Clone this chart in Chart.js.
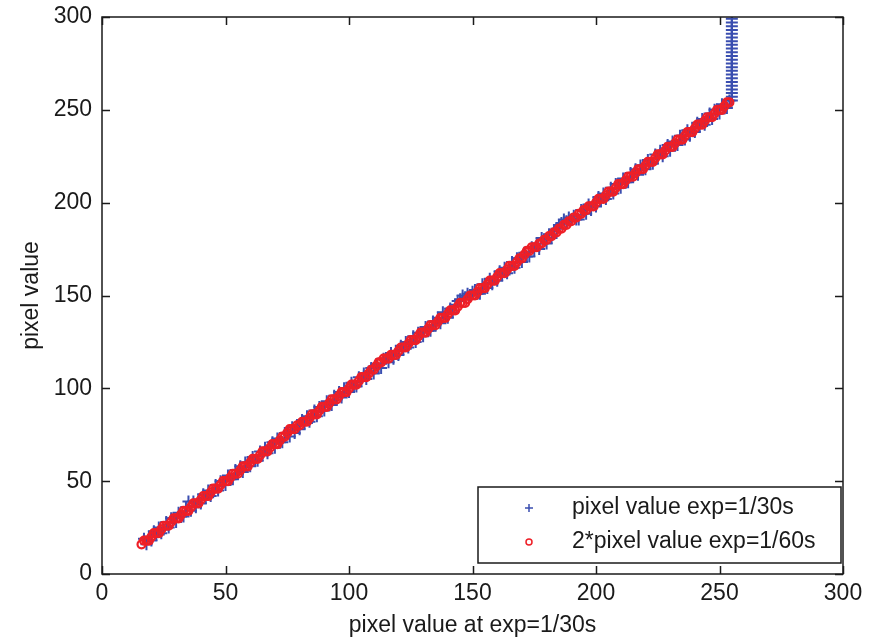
<!DOCTYPE html>
<html>
<head>
<meta charset="utf-8">
<script src="https://cdn.jsdelivr.net/npm/chart.js@4.4.1/dist/chart.umd.min.js"></script>
<style>
  html, body { margin: 0; padding: 0; background: #fff; }
  #wrap { width: 881px; height: 640px; }
</style>
</head>
<body>
<div id="wrap"><canvas id="plot" width="881" height="640"></canvas></div>
<script>
// pixel value at 1/30s exposure (blue +)
const blueX = [
  17, 18, 19, 20, 21, 22, 23, 24, 25, 26, 27, 28, 29, 30, 31, 32, 33, 34, 35, 36,
  37, 38, 39, 40, 41, 42, 43, 44, 45, 46, 47, 48, 49, 50, 51, 52, 53, 54, 55, 56,
  57, 58, 59, 60, 61, 62, 63, 64, 65, 66, 67, 68, 69, 70, 71, 72, 73, 74, 75, 76,
  77, 78, 79, 80, 81, 82, 83, 84, 85, 86, 87, 88, 89, 90, 91, 92, 93, 94, 95, 96,
  97, 98, 99, 100, 101, 102, 103, 104, 105, 106, 107, 108, 109, 110, 111, 112, 113, 114, 115, 116,
  117, 118, 119, 120, 121, 122, 123, 124, 125, 126, 127, 128, 129, 130, 131, 132, 133, 134, 135, 136,
  137, 138, 139, 140, 141, 142, 143, 144, 145, 146, 147, 148, 149, 150, 151, 152, 153, 154, 155, 156,
  157, 158, 159, 160, 161, 162, 163, 164, 165, 166, 167, 168, 169, 170, 171, 172, 173, 174, 175, 176,
  177, 178, 179, 180, 181, 182, 183, 184, 185, 186, 187, 188, 189, 190, 191, 192, 193, 194, 195, 196,
  197, 198, 199, 200, 201, 202, 203, 204, 205, 206, 207, 208, 209, 210, 211, 212, 213, 214, 215, 216,
  217, 218, 219, 220, 221, 222, 223, 224, 225, 226, 227, 228, 229, 230, 231, 232, 233, 234, 235, 236,
  237, 238, 239, 240, 241, 242, 243, 244, 245, 246, 247, 248, 249, 250, 251, 252, 253, 254, 255];
const blueY = [
  19, 16, 20, 18, 23, 21, 25, 22, 24, 28, 25, 30, 30, 28, 33, 31, 31, 36, 39, 34,
  39, 36, 40, 38, 43, 41, 45, 42, 44, 48, 45, 50, 50, 48, 53, 51, 51, 56, 54, 58,
  55, 60, 60, 58, 63, 61, 61, 66, 64, 68, 65, 69, 71, 68, 73, 71, 71, 76, 76, 74,
  79, 76, 80, 78, 83, 81, 85, 82, 84, 88, 85, 90, 90, 88, 93, 91, 91, 96, 94, 98,
  95, 100, 100, 98, 103, 101, 101, 106, 104, 108, 105, 109, 111, 108, 113, 111, 111, 116, 116, 114,
  119, 116, 120, 118, 123, 121, 125, 122, 124, 128, 125, 130, 130, 128, 133, 131, 131, 136, 134, 138,
  135, 141, 140, 138, 143, 141, 145, 147, 148, 150, 149, 151, 150, 152, 153, 151, 151, 156, 156, 154,
  159, 156, 160, 158, 163, 161, 165, 162, 164, 168, 165, 170, 170, 168, 173, 171, 171, 176, 174, 178,
  175, 181, 180, 178, 183, 181, 185, 186, 188, 189, 191, 190, 192, 191, 193, 191, 191, 196, 196, 194,
  199, 196, 200, 198, 203, 201, 205, 202, 204, 208, 205, 210, 210, 208, 213, 211, 211, 216, 214, 218,
  215, 220, 220, 218, 223, 221, 221, 226, 224, 228, 225, 229, 231, 228, 233, 231, 231, 236, 236, 234,
  239, 236, 240, 238, 243, 241, 245, 242, 244, 248, 245, 250, 250, 248, 253, 251, 251, 255, 255];
// saturated pixels at 1/30s
const satX = [255, 255, 255, 255, 255, 255, 255, 255, 255, 255, 255,
  255, 255, 255, 255, 255, 255, 255, 255, 255, 255, 255];
const satY = [257, 259, 261, 263, 265, 267, 269, 271, 273, 275, 277,
  279, 281, 283, 285, 287, 289, 291, 293, 295, 297, 299];

// 2 * pixel value at 1/60s exposure (red o)
const redX = [
  16, 17, 18, 19, 20, 21, 22, 23, 24, 25, 26, 27, 28, 29, 30, 31, 32, 33, 34, 35,
  36, 37, 38, 39, 40, 41, 42, 43, 44, 45, 46, 47, 48, 49, 50, 51, 52, 53, 54, 55,
  56, 57, 58, 59, 60, 61, 62, 63, 64, 65, 66, 67, 68, 69, 70, 71, 72, 73, 74, 75,
  76, 77, 78, 79, 80, 81, 82, 83, 84, 85, 86, 87, 88, 89, 90, 91, 92, 93, 94, 95,
  96, 97, 98, 99, 100, 101, 102, 103, 104, 105, 106, 107, 108, 109, 110, 111, 112, 113, 114, 115,
  116, 117, 118, 119, 120, 121, 122, 123, 124, 125, 126, 127, 128, 129, 130, 131, 132, 133, 134, 135,
  136, 137, 138, 139, 140, 141, 142, 143, 144, 145, 146, 147, 148, 149, 150, 151, 152, 153, 154, 155,
  156, 157, 158, 159, 160, 161, 162, 163, 164, 165, 166, 167, 168, 169, 170, 171, 172, 173, 174, 175,
  176, 177, 178, 179, 180, 181, 182, 183, 184, 185, 186, 187, 188, 189, 190, 191, 192, 193, 194, 195,
  196, 197, 198, 199, 200, 201, 202, 203, 204, 205, 206, 207, 208, 209, 210, 211, 212, 213, 214, 215,
  216, 217, 218, 219, 220, 221, 222, 223, 224, 225, 226, 227, 228, 229, 230, 231, 232, 233, 234, 235,
  236, 237, 238, 239, 240, 241, 242, 243, 244, 245, 246, 247, 248, 249, 250, 251, 252, 253, 254];
const redY = [
  16, 18, 18, 18, 20, 22, 22, 22, 24, 26, 26, 26, 28, 30, 30, 30, 32, 34, 34, 34,
  36, 38, 38, 38, 40, 42, 42, 42, 44, 46, 46, 46, 48, 50, 50, 50, 52, 54, 54, 54,
  56, 58, 58, 58, 60, 62, 62, 62, 64, 66, 66, 66, 68, 70, 70, 70, 72, 74, 74, 76,
  78, 78, 78, 80, 80, 82, 82, 82, 84, 86, 86, 86, 88, 90, 90, 90, 92, 94, 94, 94,
  96, 98, 98, 98, 100, 102, 102, 102, 104, 106, 106, 106, 108, 110, 110, 112, 114, 114, 116, 116,
  116, 118, 118, 118, 120, 122, 122, 122, 124, 126, 126, 126, 128, 130, 130, 130, 132, 134, 134, 134,
  136, 138, 138, 138, 140, 142, 142, 142, 144, 146, 146, 146, 148, 150, 150, 150, 152, 154, 154, 154,
  156, 158, 158, 158, 160, 162, 162, 162, 164, 166, 166, 166, 168, 170, 170, 172, 174, 174, 176, 176,
  176, 178, 178, 180, 180, 182, 182, 184, 184, 186, 186, 188, 188, 190, 190, 192, 192, 194, 194, 196,
  196, 198, 198, 198, 200, 202, 202, 202, 204, 206, 206, 206, 208, 210, 210, 210, 212, 214, 214, 214,
  216, 218, 218, 218, 220, 222, 222, 222, 224, 226, 226, 226, 228, 230, 230, 230, 232, 234, 234, 234,
  236, 238, 238, 238, 240, 242, 242, 242, 244, 246, 246, 246, 248, 250, 250, 250, 252, 254, 254];

const axisTicks = [0, 50, 100, 150, 200, 250, 300];
const seriesLabels = ['pixel value exp=1/30s', '2*pixel value exp=1/60s'];
const xTitle = 'pixel value at exp=1/30s';
const yTitle = 'pixel value';

const BLUE = '#3a4eb0';
const RED = '#ee1f27';
const INK = '#1a1a1a';
const FONT = { family: "'Liberation Sans', Arial, sans-serif", size: 23 };

const toPts = (xs, ys) => xs.map((x, i) => ({ x: x, y: ys[i] }));

// box round the axes with inward tick marks, like the matlab default
const framePlugin = {
  id: 'frame',
  afterDatasetsDraw(chart) {
    const { ctx, chartArea: a, scales } = chart;
    const len = 8;
    ctx.save();
    ctx.strokeStyle = INK;
    ctx.lineWidth = 1.5;
    ctx.strokeRect(a.left, a.top, a.right - a.left, a.bottom - a.top);
    ctx.beginPath();
    axisTicks.forEach(v => {
      const px = Math.round(scales.x.getPixelForValue(v)) + 0.5;
      ctx.moveTo(px, a.bottom); ctx.lineTo(px, a.bottom - len);
      ctx.moveTo(px, a.top); ctx.lineTo(px, a.top + len);
      const py = Math.round(scales.y.getPixelForValue(v)) + 0.5;
      ctx.moveTo(a.left, py); ctx.lineTo(a.left + len, py);
      ctx.moveTo(a.right, py); ctx.lineTo(a.right - len, py);
    });
    ctx.stroke();
    ctx.restore();
  }
};

// legend box in the lower right corner of the axes
const boxLegend = {
  id: 'boxLegend',
  afterDraw(chart) {
    const { ctx, chartArea: a } = chart;
    const w = 363, h = 76;
    const x0 = a.right - 2 - w, y0 = a.bottom - 11 - h;
    ctx.save();
    ctx.fillStyle = '#fff';
    ctx.fillRect(x0, y0, w, h);
    ctx.strokeStyle = INK;
    ctx.lineWidth = 1.5;
    ctx.strokeRect(x0, y0, w, h);
    ctx.font = FONT.size + 'px ' + FONT.family;
    ctx.textBaseline = 'middle';
    const rows = [y0 + 21, y0 + 55];
    chart.data.datasets.forEach((ds, i) => {
      const mx = x0 + 51, my = rows[i];
      ctx.strokeStyle = ds.borderColor;
      ctx.lineWidth = 1.5;
      ctx.beginPath();
      if (ds.pointStyle === 'cross') {
        ctx.moveTo(mx - 4, my); ctx.lineTo(mx + 4, my);
        ctx.moveTo(mx, my - 4); ctx.lineTo(mx, my + 4);
      } else {
        ctx.arc(mx, my, 3, 0, Math.PI * 2);
      }
      ctx.stroke();
      ctx.fillStyle = INK;
      ctx.fillText(ds.label, x0 + 94, my);
    });
    ctx.restore();
  }
};

new Chart(document.getElementById('plot'), {
  type: 'scatter',
  data: {
    datasets: [
      {
        label: seriesLabels[0],
        data: toPts(blueX.concat(satX), blueY.concat(satY)),
        pointStyle: 'cross',
        pointRadius: 6,
        borderWidth: 2,
        borderColor: BLUE,
        backgroundColor: BLUE,
        order: 2
      },
      {
        label: seriesLabels[1],
        data: toPts(redX, redY),
        pointStyle: 'circle',
        pointRadius: 4,
        borderWidth: 2.2,
        borderColor: RED,
        backgroundColor: 'rgba(0,0,0,0)',
        order: 1
      }
    ]
  },
  options: {
    responsive: false,
    animation: false,
    devicePixelRatio: 1,
    layout: { padding: { top: 17, right: 38, left: 0, bottom: 0 } },
    plugins: {
      legend: { display: false },
      tooltip: { enabled: false }
    },
    scales: {
      x: {
        type: 'linear',
        min: 0,
        max: 300,
        grid: { display: false, drawTicks: false },
        border: { display: false },
        ticks: { stepSize: 50, padding: 6, color: INK, font: FONT, maxRotation: 0 },
        title: { display: true, text: xTitle, color: INK, font: FONT, padding: { top: 0, bottom: 1 } },
        afterFit(scale) { scale.height = 66; }
      },
      y: {
        type: 'linear',
        min: 0,
        max: 300,
        grid: { display: false, drawTicks: false },
        border: { display: false },
        ticks: { stepSize: 50, padding: 10, color: INK, font: FONT },
        title: { display: true, text: yTitle, color: INK, font: FONT, padding: { top: 18, bottom: 0 } },
        afterFit(scale) {
          scale.width = 102;
          scale.paddingTop = 0;
          scale.paddingBottom = 0;
        }
      }
    }
  },
  plugins: [framePlugin, boxLegend]
});
</script>
</body>
</html>
